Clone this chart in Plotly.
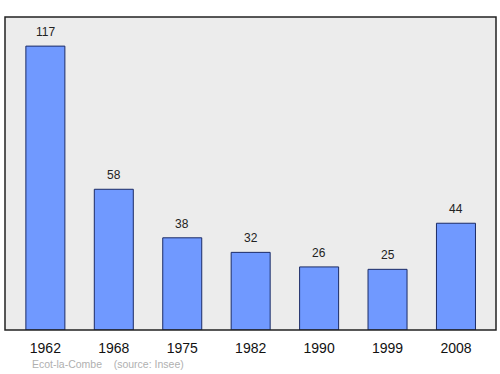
import plotly.graph_objects as go

years = ["1962", "1968", "1975", "1982", "1990", "1999", "2008"]
population = [117, 58, 38, 32, 26, 25, 44]

fig = go.Figure()
fig.add_trace(go.Bar(
    x=years, y=population, width=0.57,
    marker=dict(color="#7099ff", line=dict(color="#1c2c66", width=1)),
    hoverinfo="skip",
))
for i, v in enumerate(population):
    fig.add_annotation(x=i, y=v, text=str(v), showarrow=False, yshift=14,
                       font=dict(family="Liberation Sans, Arial", size=12, color="#222"))

fig.add_shape(type="rect", xref="paper", yref="paper", x0=0, y0=0, x1=1, y1=1,
              line=dict(color="#222", width=1.5), layer="above")

fig.add_annotation(xref="paper", yref="paper", x=0.05, y=-0.11, xanchor="left", yanchor="middle",
                   text="Ecot-la-Combe&nbsp;&nbsp;&nbsp;&nbsp;(source: Insee)", showarrow=False,
                   font=dict(family="Liberation Sans, Arial", size=10.5, color="#b0b0b0"))

fig.update_layout(
    width=500, height=374,
    margin=dict(l=5, r=4, t=17, b=44),
    paper_bgcolor="white", plot_bgcolor="#ececec",
    showlegend=False,
    xaxis=dict(type="category", range=[-0.59, 6.585], showgrid=False, zeroline=False,
               ticks="outside", ticklen=5, tickcolor="rgba(0,0,0,0)",
               tickfont=dict(family="Liberation Sans, Arial", size=14, color="#111")),
    yaxis=dict(range=[0, 129], showgrid=False, zeroline=False, showticklabels=False, ticks=""),
    bargap=0.43,
)
fig.write_html("out.html")
